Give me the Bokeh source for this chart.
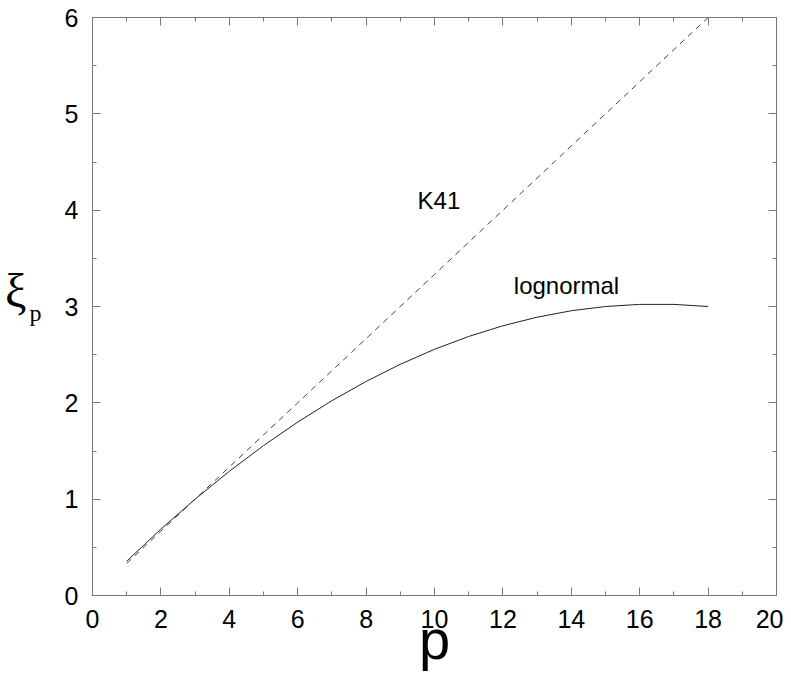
from bokeh.plotting import figure
from bokeh.models import LinearAxis, Label, Range1d, FixedTicker
from bokeh.embed import file_html
from bokeh.resources import INLINE

p_vals = [1, 2, 3, 4, 5, 6, 7, 8, 9, 10, 11, 12, 13, 14, 15, 16, 17, 18]
k41 = [0.333, 0.667, 1.0, 1.333, 1.667, 2.0, 2.333, 2.667, 3.0, 3.333,
       3.667, 4.0, 4.333, 4.667, 5.0, 5.333, 5.667, 6.0]
lognormal = [0.356, 0.689, 1.0, 1.289, 1.556, 1.8, 2.022, 2.222, 2.4, 2.556,
             2.689, 2.8, 2.889, 2.956, 3.0, 3.022, 3.022, 3.0]
x_ticks = [0, 2, 4, 6, 8, 10, 12, 14, 16, 18, 20]
y_ticks = [0, 1, 2, 3, 4, 5, 6]

FONT = "Liberation Sans"
SERIF = "Liberation Serif"
AX = "#777777"

p = figure(width=783, height=676, output_backend="svg", toolbar_location=None,
           x_range=Range1d(0, 20), y_range=Range1d(0, 6),
           min_border_left=92, min_border_right=7, min_border_top=17, min_border_bottom=81,
           x_axis_location=None, y_axis_location=None)
p.grid.visible = False
p.outline_line_color = AX
p.background_fill_color = "white"
p.border_fill_color = "white"

def style(ax, ticks, minor, labels=True):
    ax.ticker = FixedTicker(ticks=ticks, minor_ticks=minor)
    ax.axis_line_color = AX
    ax.major_tick_line_color = AX
    ax.minor_tick_line_color = AX
    ax.major_tick_in = 8
    ax.major_tick_out = 0
    ax.minor_tick_in = 4
    ax.minor_tick_out = 0
    if labels:
        ax.major_label_text_font = FONT
        ax.major_label_text_font_size = "25px"
        ax.major_label_text_color = "black"
        ax.major_label_standoff = 14
    else:
        ax.major_label_overrides = {t: "" for t in ticks}
        ax.major_label_text_font_size = "8px"
        ax.major_label_standoff = 0

xminor = [i for i in range(0, 21)]
yminor = [i * 0.5 for i in range(0, 13)]

xb = LinearAxis(); style(xb, x_ticks, xminor)
xb.axis_label = "p"
xb.axis_label_text_font = FONT
xb.axis_label_text_font_size = "56px"
xb.axis_label_text_font_style = "normal"
xb.axis_label_text_color = "black"
xb.axis_label_standoff = -23
p.add_layout(xb, "below")

yl = LinearAxis(); style(yl, y_ticks, yminor)
yl.axis_label = "\u00a0\np"
yl.axis_label_orientation = "horizontal"
yl.axis_label_text_font = SERIF
yl.axis_label_text_font_size = "24px"
yl.axis_label_text_font_style = "normal"
yl.axis_label_text_color = "black"
yl.axis_label_text_line_height = 0.5
yl.axis_label_standoff = 20
p.add_layout(yl, "left")

# outer left axis carrying only the symbol of the y title
yo = LinearAxis(ticker=FixedTicker(ticks=[]), axis_line_color=None,
                major_tick_line_color=None, minor_tick_line_color=None,
                major_tick_in=0, major_tick_out=0, minor_tick_in=0, minor_tick_out=0)
yo.axis_label = "ξ\n\u00a0"
yo.axis_label_orientation = "horizontal"
yo.axis_label_text_font = SERIF
yo.axis_label_text_font_size = "48px"
yo.axis_label_text_font_style = "normal"
yo.axis_label_text_color = "black"
yo.axis_label_text_line_height = 0.6
yo.axis_label_standoff = 0
p.add_layout(yo, "left")

xt = LinearAxis(); style(xt, x_ticks, xminor, labels=False)
p.add_layout(xt, "above")
yr = LinearAxis(); style(yr, y_ticks, yminor, labels=False)
p.add_layout(yr, "right")

p.line(p_vals, k41, line_color="#444444", line_width=1, line_dash="6 5")
p.line(p_vals, lognormal, line_color="#222222", line_width=1)

p.add_layout(Label(x=10.13, y=4.1, text="K41", text_font=FONT, text_font_size="24px",
                   text_align="center", text_baseline="middle", text_color="black"))
p.add_layout(Label(x=13.86, y=3.22, text="lognormal", text_font=FONT, text_font_size="24px",
                   text_align="center", text_baseline="middle", text_color="black"))

open("out.html", "w").write(file_html(p, INLINE))
